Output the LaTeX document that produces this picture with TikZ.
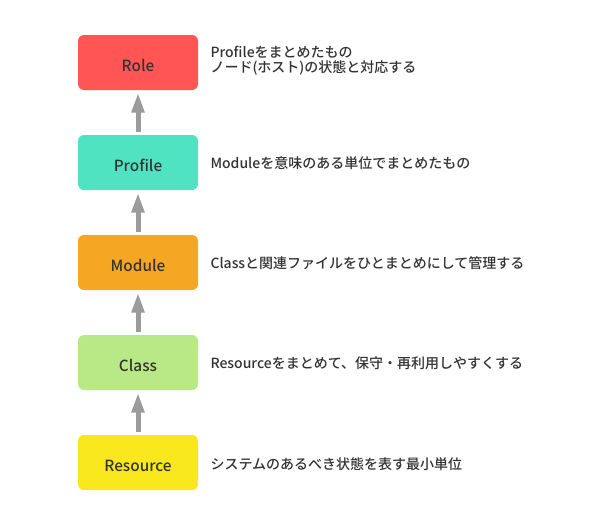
\documentclass[tikz,border=0pt]{standalone}
\usepackage{fontspec}
\setmainfont{Noto Sans CJK JP}[BoldFont={Noto Sans CJK JP Medium}]
\usetikzlibrary{arrows.meta}

\definecolor{rolered}{HTML}{FF5555}
\definecolor{profilegreen}{HTML}{50E3C2}
\definecolor{moduleorange}{HTML}{F5A623}
\definecolor{classgreen}{HTML}{B8E986}
\definecolor{resourceyellow}{HTML}{F8E71C}
\definecolor{arrowgray}{HTML}{9B9B9B}
\definecolor{textgray}{HTML}{333333}

\tikzset{every picture/.style={line width=0.75pt}}
\tikzset{
  layerbox/.style={rounded corners=4.5pt, minimum width=90pt, minimum height=41.25pt, inner sep=0pt, text height=12.75pt, text depth=0pt, text=textgray, font=\bfseries\fontsize{11.5}{13}\selectfont},
  layernote/.style={anchor=west, inner sep=0pt, text=textgray, align=left, font=\bfseries\fontsize{10.5}{11.25}\selectfont},
  uparrow/.style={arrowgray, line width=3.75pt, -{Triangle[length=15pt,width=9pt]}, shorten <=2.25pt, shorten >=1.5pt}
}

\begin{document}
\begin{tikzpicture}[x=0.75pt,y=0.75pt,yscale=-1,xscale=1]
\useasboundingbox (0,0) rectangle (595,521);

%Shape: Rounded Rectangles
\node [layerbox, fill=rolered] (role) at (138,62.5) {Role};
\node [layerbox, fill=profilegreen] (profile) at (138,162.5) {Profile};
\node [layerbox, fill=moduleorange] (module) at (138,262.5) {Module};
\node [layerbox, fill=classgreen] (class) at (138,362.5) {Class};
\node [layerbox, fill=resourceyellow] (resource) at (138,462.5) {Resource};

%Straight Lines
\draw [uparrow] (profile) -- (role);
\draw [uparrow] (module) -- (profile);
\draw [uparrow] (class) -- (module);
\draw [uparrow] (resource) -- (class);

% Text Node
\node [layernote] (rolenote) at (210,61) {Profileをまとめたもの\\ノード(ホスト)の状態と対応する};
% Text Node
\node [layernote] (profilenote) at (210,163) {Moduleを意味のある単位でまとめたもの};
% Text Node
\node [layernote] (modulenote) at (210,263) {Classと関連ファイルをひとまとめにして管理する};
% Text Node
\node [layernote] (classnote) at (210,363) {Resourceをまとめて、保守・再利用しやすくする};
% Text Node
\node [layernote] (resourcenote) at (210,464) {システムのあるべき状態を表す最小単位};
\end{tikzpicture}
\end{document}
